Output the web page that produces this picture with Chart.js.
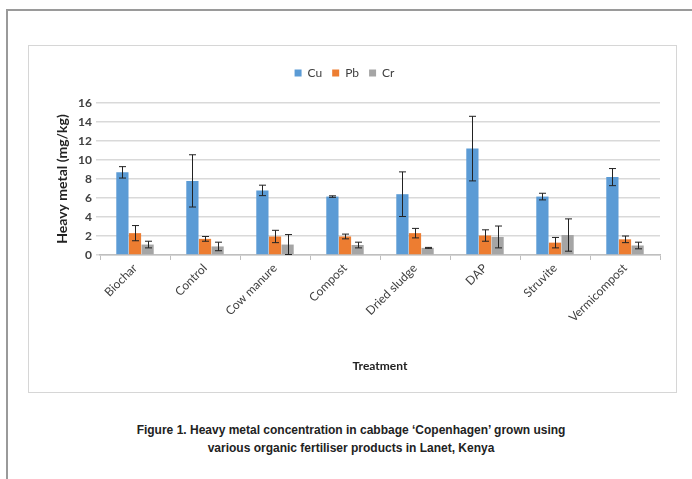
<!DOCTYPE html>
<html>
<head>
<meta charset="utf-8">
<script src="https://cdn.jsdelivr.net/npm/chart.js@4"></script>
<style>
  html, body { margin: 0; padding: 0; background: #fff; }
  body { width: 692px; height: 479px; position: relative; overflow: hidden; }
  .frame { position: absolute; left: 6px; top: 9px; width: 700px; height: 480px; border-top: 2px solid #9a9a9a; border-left: 2px solid #9a9a9a; }
  .box { position: absolute; left: 28px; top: 45px; width: 647px; height: 346px; border: 1.5px solid #d6d6d6; }
  .plot { position: absolute; left: 29px; top: 47px; width: 647px; height: 345px; }
  .caption { position: absolute; left: 0; width: 702px; top: 421px; text-align: center; font: bold 12px "Liberation Sans", Arial, sans-serif; color: #222; line-height: 18px; }
</style>
</head>
<body>
<div class="frame"></div>
<div class="box"></div>
<div class="plot"><canvas id="chart"></canvas></div>
<div class="caption">Figure 1. Heavy metal concentration in cabbage ‘Copenhagen’ grown using<br>various organic fertiliser products in Lanet, Kenya</div>
<script>
const treatments = ["Biochar", "Control", "Cow manure", "Compost", "Dried sludge", "DAP", "Struvite", "Vermicompost"]
const cu    = [8.7, 7.8, 6.8, 6.15, 6.4, 11.2, 6.15, 8.2]
const cuErr = [0.6, 2.75, 0.55, 0.08, 2.35, 3.4, 0.35, 0.9]
const pb    = [2.3, 1.7, 1.95, 1.95, 2.3, 2.05, 1.3, 1.65]
const pbErr = [0.8, 0.25, 0.65, 0.25, 0.5, 0.6, 0.55, 0.35]
const cr    = [1.1, 0.9, 1.1, 1.05, 0.75, 1.9, 2.1, 1.0]
const crErr = [0.35, 0.45, 1.05, 0.3, 0.05, 1.15, 1.7, 0.35]
const yTicks = [0, 2, 4, 6, 8, 10, 12, 14, 16]

const errors = [cuErr, pbErr, crErr]

// Excel style error bars, drawn from the y scale
const errorBars = {
  id: "errorBars",
  afterDatasetsDraw(chart) {
    const ctx = chart.ctx
    const y = chart.scales.y
    ctx.save()
    ctx.strokeStyle = "#222"
    ctx.lineWidth = 1
    chart.data.datasets.forEach((ds, di) => {
      const meta = chart.getDatasetMeta(di)
      meta.data.forEach((bar, i) => {
        const v = ds.data[i], e = errors[di][i]
        const top = y.getPixelForValue(v + e)
        const bot = y.getPixelForValue(v - e)
        const x = Math.round(bar.x) + 0.5
        ctx.beginPath()
        ctx.moveTo(x, top); ctx.lineTo(x, bot)
        ctx.moveTo(x - 3.5, top); ctx.lineTo(x + 3.5, top)
        ctx.moveTo(x - 3.5, bot); ctx.lineTo(x + 3.5, bot)
        ctx.stroke()
      })
    })
    ctx.restore()
  }
}

// more room between legend and plot
const legendGap = {
  id: "legendGap",
  beforeInit(chart) {
    const fit = chart.legend.fit
    chart.legend.fit = function () {
      fit.bind(chart.legend)()
      this.height += 14
    }
  }
}

const bar = (label, data, color) => ({
  label, data,
  backgroundColor: color,
  borderWidth: 0,
  categoryPercentage: 0.54,
  barPercentage: 0.97
})

new Chart(document.getElementById("chart"), {
  type: "bar",
  data: {
    labels: treatments,
    datasets: [
      bar("Cu", cu, "#5B9BD5"),
      bar("Pb", pb, "#ED7D31"),
      bar("Cr", cr, "#A5A5A5")
    ]
  },
  options: {
    responsive: true,
    maintainAspectRatio: false,
    animation: false,
    layout: { padding: { left: 0, right: 16, top: 10, bottom: 19 } },
    plugins: {
      legend: {
        position: "top",
        labels: {
          boxWidth: 7, boxHeight: 7, padding: 10,
          font: { family: "Lato", size: 12 }, color: "#404040"
        }
      },
      tooltip: { enabled: false }
    },
    scales: {
      x: {
        grid: { offset: true, drawOnChartArea: false, color: "#bfbfbf", tickLength: 5 },
        border: { color: "#bfbfbf", width: 1.5 },
        ticks: { minRotation: 45, maxRotation: 45, font: { family: "Lato", size: 12 }, color: "#404040", padding: 1 },
        title: { display: true, text: "Treatment", font: { family: "Lato", size: 12, weight: "bold" }, color: "#222", padding: { top: 4, bottom: 0 } },
        afterFit: (s) => { s.height = 118 }
      },
      y: {
        min: 0, max: 16,
        afterBuildTicks: (s) => { s.ticks = yTicks.map(v => ({ value: v })) },
        grid: { color: "#d9d9d9", lineWidth: 1.5, tickLength: 4 },
        border: { display: false },
        ticks: { font: { family: "Lato", size: 12, weight: "bold" }, color: "#404040", padding: 4 },
        title: { display: true, text: "Heavy metal (mg/kg)", font: { family: "Lato", size: 14, weight: "bold" }, color: "#222", padding: { top: 25, bottom: 0 } },
        afterFit: (s) => { s.width = 71 }
      }
    }
  },
  plugins: [errorBars, legendGap]
})
</script>
</body>
</html>
